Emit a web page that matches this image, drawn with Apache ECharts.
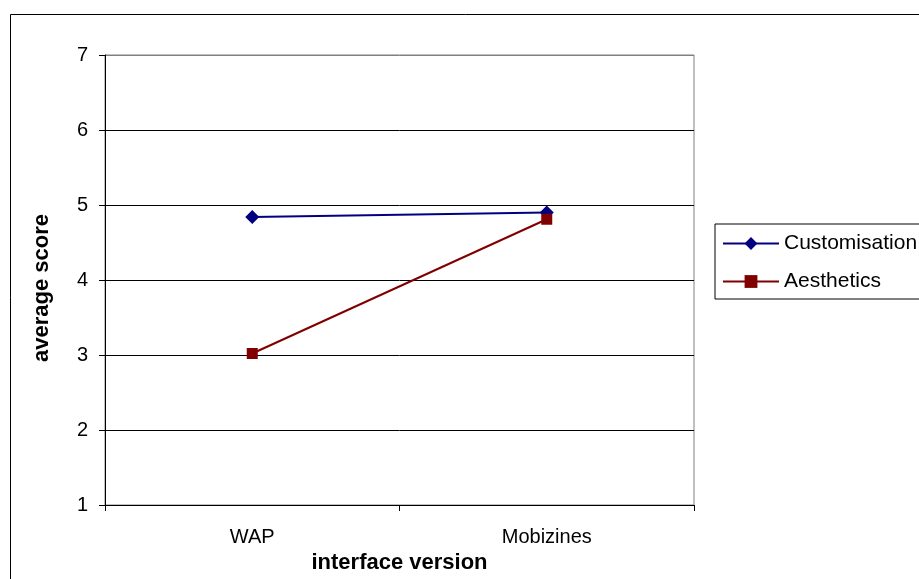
<!DOCTYPE html>
<html>
<head>
<meta charset="utf-8">
<script src="https://cdn.jsdelivr.net/npm/echarts@6/dist/echarts.min.js"></script>
<style>
  html, body { margin: 0; padding: 0; background: #fff; }
  #chart { width: 919px; height: 579px; }
</style>
</head>
<body>
<div id="chart"></div>
<script>
// Average scores per interface version
const categories = ['WAP', 'Mobizines'];
const customisation = [4.84, 4.90];
const aesthetics = [3.02, 4.81];
const yTicks = [1, 2, 3, 4, 5, 6, 7];

const FONT = 'Liberation Sans, Arial, sans-serif';
const chart = echarts.init(document.getElementById('chart'));

chart.setOption({
  animation: false,
  backgroundColor: '#fff',
  graphic: [{
    type: 'rect',
    shape: { x: 10.5, y: 14.5, width: 1000, height: 1000 },
    style: { fill: 'none', stroke: '#000', lineWidth: 1 },
    silent: true
  }],
  grid: {
    left: 105, top: 55, right: 225, bottom: 74,
    containLabel: false,
    outerBoundsMode: 'none',
    show: true, borderColor: '#808080', borderWidth: 1, backgroundColor: '#fff'
  },
  legend: {
    orient: 'vertical',
    left: 715, top: 224,
    padding: [9, 40, 7, 7],
    itemGap: 17,
    itemWidth: 56, itemHeight: 16,
    borderColor: '#000', borderWidth: 1,
    lineStyle: { width: 2 },
    textStyle: { fontFamily: FONT, fontSize: 21, color: '#000' },
    data: ['Customisation', 'Aesthetics']
  },
  xAxis: {
    type: 'category',
    data: categories,
    boundaryGap: true,
    name: 'interface version',
    nameLocation: 'middle',
    nameGap: 46,
    nameTextStyle: { fontFamily: FONT, fontSize: 22, fontWeight: 'bold', color: '#000' },
    axisLine: { lineStyle: { color: '#000', width: 1 } },
    axisTick: { show: true, length: 6, alignWithLabel: false, lineStyle: { color: '#000' } },
    axisLabel: { fontFamily: FONT, fontSize: 20, color: '#000', margin: 22 },
    splitLine: { show: false }
  },
  yAxis: {
    type: 'value',
    min: yTicks[0], max: yTicks[yTicks.length - 1], interval: 1,
    name: 'average score',
    nameLocation: 'middle',
    nameGap: 52,
    nameTextStyle: { fontFamily: FONT, fontSize: 22, fontWeight: 'bold', color: '#000', padding: [0, 16, 0, 0] },
    axisLine: { show: true, lineStyle: { color: '#000', width: 1 } },
    axisTick: { show: true, length: 6, lineStyle: { color: '#000' } },
    axisLabel: { fontFamily: FONT, fontSize: 20, color: '#000', margin: 17 },
    splitLine: {
      show: true,
      lineStyle: { color: ['#000', '#000', '#000', '#000', '#000', '#000', '#808080'], width: 1 }
    }
  },
  series: [
    {
      name: 'Customisation',
      type: 'line',
      data: customisation,
      symbol: 'diamond',
      symbolSize: 14,
      color: '#000080',
      lineStyle: { color: '#000080', width: 2 },
      itemStyle: { color: '#000080' }
    },
    {
      name: 'Aesthetics',
      type: 'line',
      data: aesthetics,
      symbol: 'rect',
      symbolSize: 11,
      color: '#800000',
      lineStyle: { color: '#800000', width: 2 },
      itemStyle: { color: '#800000' }
    }
  ]
});
</script>
</body>
</html>
